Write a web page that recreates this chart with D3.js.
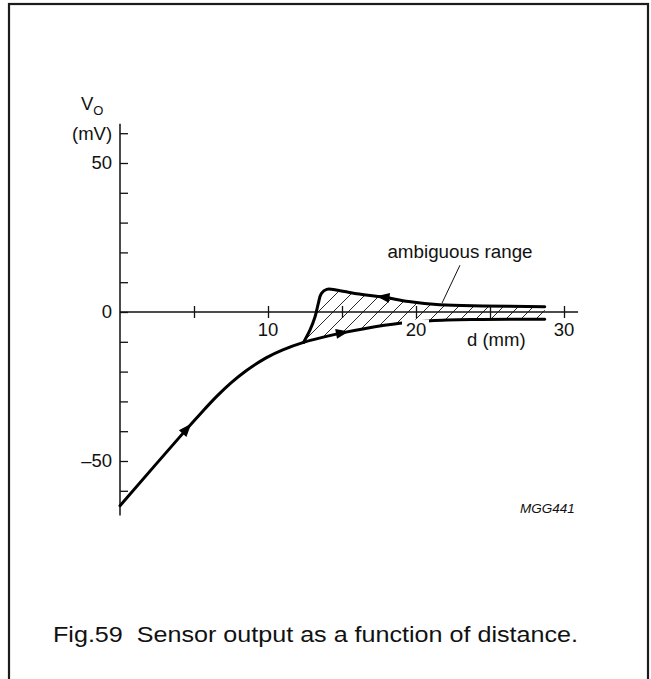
<!DOCTYPE html>
<html>
<head>
<meta charset="utf-8">
<script src="https://cdn.jsdelivr.net/npm/d3@7/dist/d3.min.js"></script>
<style>
  html, body { margin: 0; padding: 0; background: #fff; }
  svg { display: block; }
  text { font-family: "Liberation Sans", Arial, sans-serif; fill: #111; white-space: pre; }
</style>
</head>
<body>
<svg id="chart" width="651" height="679"></svg>
<script>
// ---------------- data ----------------
// forward path (increasing distance): main curve continuing into lower branch
const forwardD = [0, 4.5, 5.5, 6.5, 7.5, 8.5, 9.9, 11.0, 12.4, 13.6, 15.0, 16.5, 18.9, 21.0, 24.0, 28.7];
const forwardV = [-65, -39.3, -33.8, -28.5, -23.8, -19.8, -15.3, -12.7, -10.2, -8.6, -7, -5.6, -3.8, -2.9, -2.5, -2.4];
// return path (upper branch of hysteresis)
const upperD = [12.4, 12.84, 13.18, 13.4, 13.6, 13.97, 14.6, 16.0, 17.8, 19.5, 21.6, 24.5, 28.7];
const upperV = [-10.2, -6, -1.6, 2.9, 6.2, 7.6, 7.4, 6.1, 5.0, 3.5, 2.4, 2.0, 1.8];
// lower branch used to close the hatched (ambiguous) region
const lowerD = [12.4, 13.6, 15.0, 16.5, 18.9, 21.0, 24.0, 28.7];
const lowerV = [-10.2, -8.6, -7, -5.6, -3.8, -2.9, -2.5, -2.4];
// arrows: position and a second point giving the direction of travel
const arrowD   = [4.5, 15.0, 17.8];
const arrowV   = [-39.3, -7, 5.0];
const arrowToD = [5.0, 15.6, 17.2];
const arrowToV = [-36.45, -6.45, 5.4];

const xTicks = [5, 10, 15, 20, 25, 30];
const xTickLabels = ["10", "20", "30"];
const xLabelValues = [10, 20, 30];
const yTicks = [-60, -50, -40, -30, -20, -10, 0, 10, 20, 30, 40, 50, 60];
const yLabelValues = [-50, 0, 50];
const yTickLabels = ["\u201350", "0", "50"];

const caption = "Fig.59  Sensor output as a function of distance.";

// ---------------- drawing ----------------
const svg = d3.select("#chart");

// frame
svg.append("rect")
  .attr("x", 9).attr("y", 4).attr("width", 639).attr("height", 700)
  .attr("fill", "none").attr("stroke", "#1c1c1c").attr("stroke-width", 2.2);

const x = d3.scaleLinear().domain([0, 30]).range([120, 564]);
const y = d3.scaleLinear().domain([-50, 50]).range([461, 163]);

// hatch pattern
const defs = svg.append("defs");
const pat = defs.append("pattern")
  .attr("id", "hatch").attr("patternUnits", "userSpaceOnUse")
  .attr("width", 15).attr("height", 15);
pat.append("path")
  .attr("d", "M-1,1 l2,-2 M0,15 l15,-15 M14,16 l2,-2")
  .attr("stroke", "#111").attr("stroke-width", 0.9);

const line = d3.line()
  .x(p => x(p[0])).y(p => y(p[1]))
  .curve(d3.curveCatmullRom.alpha(0.5));

const upperPts = upperD.map((d, i) => [d, upperV[i]]);
const lowerPts = lowerD.map((d, i) => [d, lowerV[i]]);
const forwardPts = forwardD.map((d, i) => [d, forwardV[i]]);

// hatched ambiguous range
const regionPath = line(upperPts) + "L" + line(lowerPts.slice().reverse()).slice(1) + "Z";
svg.append("path").attr("d", regionPath)
  .attr("fill", "url(#hatch)").attr("stroke", "none");

// x axis
svg.append("line")
  .attr("x1", x(0)).attr("x2", x(30.95))
  .attr("y1", y(0)).attr("y2", y(0))
  .attr("stroke", "#111").attr("stroke-width", 1.5);
const xAxis = d3.axisBottom(x).tickValues(xTicks).tickSize(6).tickFormat("");
const gx = svg.append("g").attr("transform", `translate(0,${y(0)})`).call(xAxis);
gx.select(".domain").remove();
gx.selectAll(".tick line").attr("y1", -6).attr("y2", 6)
  .attr("stroke", "#111").attr("stroke-width", 1.3);

// y axis
svg.append("line")
  .attr("x1", x(0)).attr("x2", x(0))
  .attr("y1", y(63.2)).attr("y2", y(-68.3))
  .attr("stroke", "#111").attr("stroke-width", 1.5);
const yAxis = d3.axisLeft(y).tickValues(yTicks).tickSize(-8).tickFormat("");
const gy = svg.append("g").attr("transform", `translate(${x(0)},0)`).call(yAxis);
gy.select(".domain").remove();
gy.selectAll(".tick line").attr("stroke", "#111").attr("stroke-width", 1.3);

// curves
svg.append("path").attr("d", line(forwardPts))
  .attr("fill", "none").attr("stroke", "#000").attr("stroke-width", 3)
  .attr("stroke-linejoin", "round").attr("stroke-linecap", "round");
svg.append("path").attr("d", line(upperPts))
  .attr("fill", "none").attr("stroke", "#000").attr("stroke-width", 3)
  .attr("stroke-linejoin", "round").attr("stroke-linecap", "round");

// arrows
arrowD.forEach((d, i) => {
  const px = x(d), py = y(arrowV[i]);
  const qx = x(arrowToD[i]), qy = y(arrowToV[i]);
  const ang = Math.atan2(qy - py, qx - px) * 180 / Math.PI;
  svg.append("path")
    .attr("d", "M7,0 L-6,-5 L-6,5 Z")
    .attr("transform", `translate(${px},${py}) rotate(${ang})`)
    .attr("fill", "#000");
});

// x tick labels (with white backing that interrupts the lower curve near 20)
xLabelValues.forEach((v, i) => {
  if (v === 20) {
    svg.append("rect").attr("x", x(v) - 14).attr("y", 319.5)
      .attr("width", 27).attr("height", 20).attr("fill", "#fff");
  }
  svg.append("text")
    .attr("x", x(v)).attr("y", 336)
    .attr("text-anchor", "middle").attr("font-size", 18.5)
    .text(xTickLabels[i]);
});

// y tick labels
yLabelValues.forEach((v, i) => {
  svg.append("text")
    .attr("x", 112).attr("y", y(v)).attr("dy", "0.35em")
    .attr("text-anchor", "end").attr("font-size", 18.5)
    .text(yTickLabels[i]);
});

// axis titles
const vt = svg.append("text").attr("x", 81).attr("y", 110).attr("font-size", 18.5);
vt.append("tspan").text("V");
vt.append("tspan").attr("font-size", 13).attr("dy", 5).text("O");
svg.append("text").attr("x", 72).attr("y", 140).attr("font-size", 18.5).text("(mV)");
svg.append("text").attr("x", 467).attr("y", 346).attr("font-size", 18.5).text("d (mm)");

// annotation
svg.append("text").attr("x", 460).attr("y", 258)
  .attr("text-anchor", "middle").attr("font-size", 18.8).text("ambiguous range");
svg.append("line")
  .attr("x1", x(22.97)).attr("y1", y(15.7))
  .attr("x2", x(21.76)).attr("y2", y(3))
  .attr("stroke", "#111").attr("stroke-width", 1);

svg.append("text").attr("x", 520).attr("y", 513)
  .attr("font-size", 13.5).attr("font-style", "italic").text("MGG441");

svg.append("text").attr("x", 53).attr("y", 642)
  .attr("font-size", 22.5)
  .attr("textLength", 525).attr("lengthAdjust", "spacingAndGlyphs")
  .text(caption);
</script>
</body>
</html>
